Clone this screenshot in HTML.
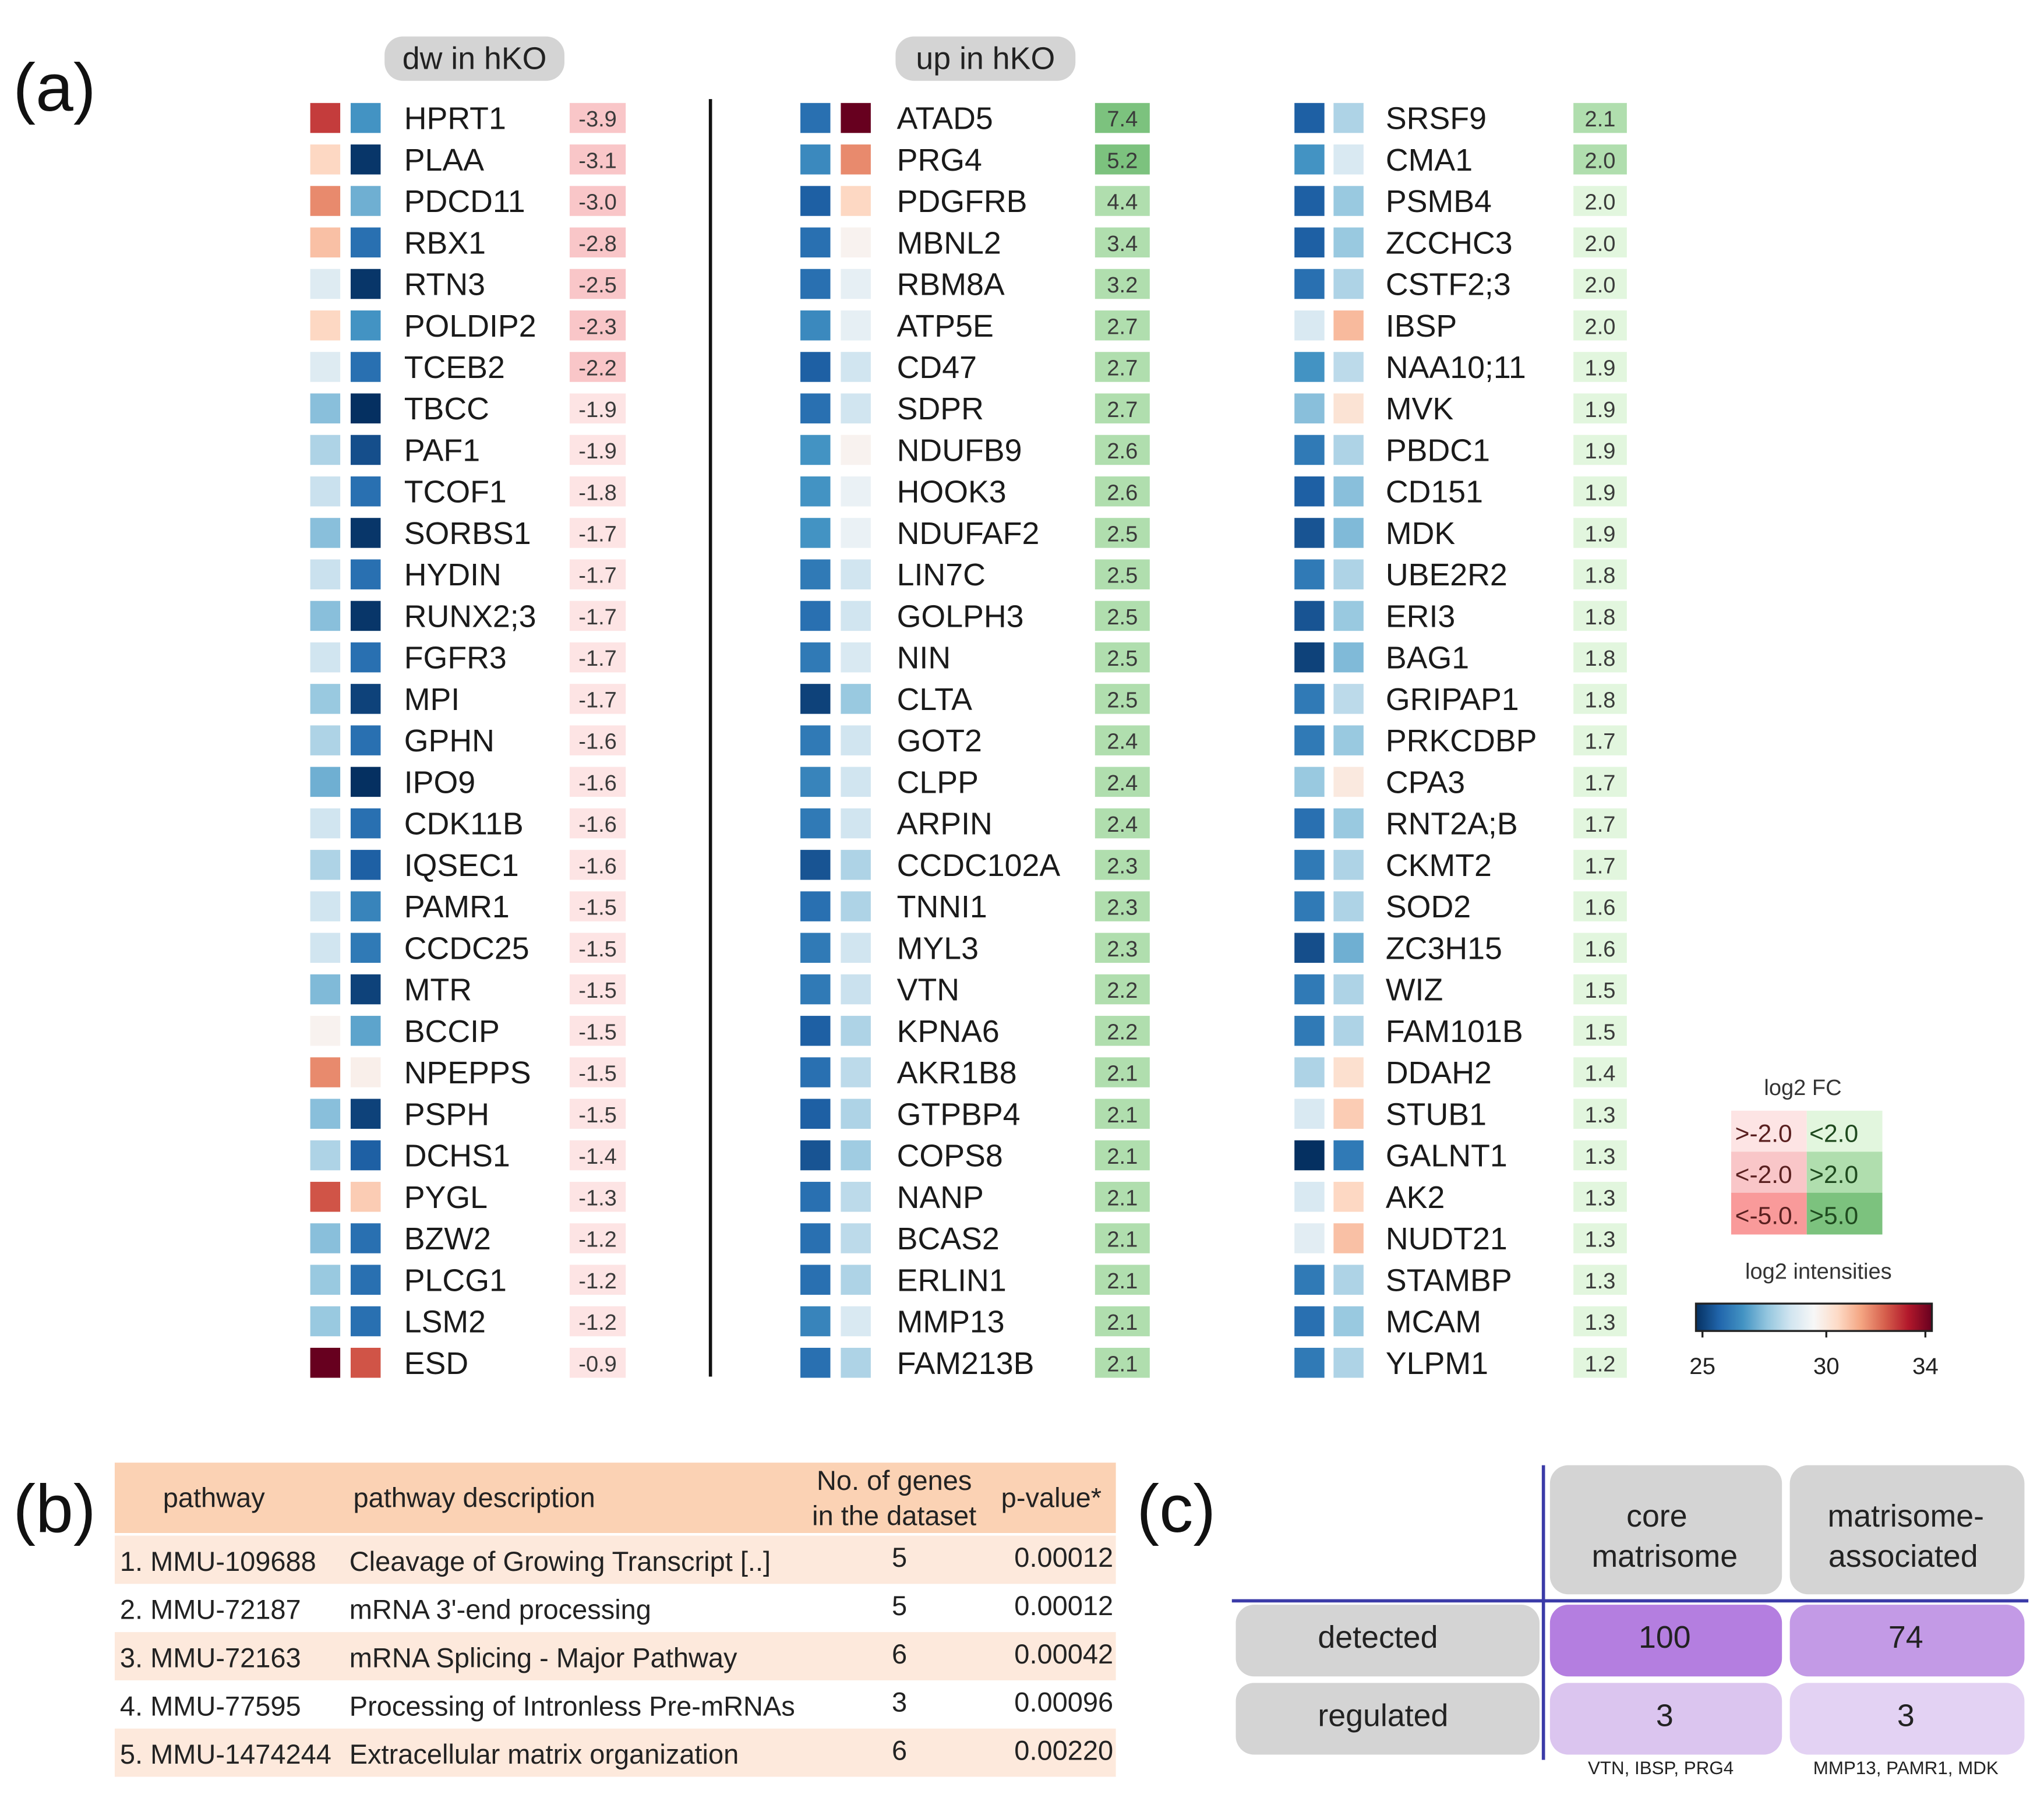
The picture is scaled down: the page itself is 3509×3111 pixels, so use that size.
<!DOCTYPE html>
<html><head><meta charset="utf-8">
<style>
html,body{margin:0;padding:0;background:#fff;}
svg{display:block;font-family:"Liberation Sans",Arial,sans-serif;}
</style></head>
<body>
<svg id="fig" width="3509" height="3111" viewBox="0 0 1568 1390" preserveAspectRatio="none" xmlns="http://www.w3.org/2000/svg">
<rect x="0" y="0" width="1568" height="1390" fill="#fff"/>
<text x="10" y="85" font-size="52" fill="#111">(a)</text>
<g><rect x="295" y="28" width="138" height="34" rx="14" fill="#d4d4d4"/><text x="364" y="53" font-size="24" text-anchor="middle" fill="#222">dw in hKO</text></g>
<g><rect x="687" y="28" width="138" height="34" rx="14" fill="#d4d4d4"/><text x="756" y="53" font-size="24" text-anchor="middle" fill="#222">up in hKO</text></g>
<line x1="545" y1="76" x2="545" y2="1056" stroke="#111" stroke-width="2.5"/>
<g id="heat"></g>
<g id="legend"></g>
<g id="tableb"></g>
<g id="panelc"></g>
</svg>
<script>
const NS="http://www.w3.org/2000/svg";
function mk(tag,attrs,parent,txt){const e=document.createElementNS(NS,tag);for(const k in attrs)e.setAttribute(k,attrs[k]);if(txt!==undefined)e.textContent=txt;parent.appendChild(e);return e;}

const genes1=["HPRT1","PLAA","PDCD11","RBX1","RTN3","POLDIP2","TCEB2","TBCC","PAF1","TCOF1","SORBS1","HYDIN","RUNX2;3","FGFR3","MPI","GPHN","IPO9","CDK11B","IQSEC1","PAMR1","CCDC25","MTR","BCCIP","NPEPPS","PSPH","DCHS1","PYGL","BZW2","PLCG1","LSM2","ESD"];
const fc1=[-3.9,-3.1,-3.0,-2.8,-2.5,-2.3,-2.2,-1.9,-1.9,-1.8,-1.7,-1.7,-1.7,-1.7,-1.7,-1.6,-1.6,-1.6,-1.6,-1.5,-1.5,-1.5,-1.5,-1.5,-1.5,-1.4,-1.3,-1.2,-1.2,-1.2,-0.9];
const intA1=[33,30.8,32,31.2,29.6,30.8,29.6,28.3,28.8,29.2,28.3,29.2,28.3,29.3,28.5,28.8,28,29.3,28.8,29.3,29.3,28.2,30,32,28.3,28.8,32.7,28.3,28.5,28.5,34];
const intB1=[27.5,25.8,28,26.8,25.8,27.5,26.8,25.6,26.2,26.8,25.8,26.8,25.8,26.8,26,26.8,25.6,26.8,26.5,27.2,27,26,27.8,30.1,26,26.5,31,26.8,26.8,26.8,32.7];

const genes2=["ATAD5","PRG4","PDGFRB","MBNL2","RBM8A","ATP5E","CD47","SDPR","NDUFB9","HOOK3","NDUFAF2","LIN7C","GOLPH3","NIN","CLTA","GOT2","CLPP","ARPIN","CCDC102A","TNNI1","MYL3","VTN","KPNA6","AKR1B8","GTPBP4","COPS8","NANP","BCAS2","ERLIN1","MMP13","FAM213B"];
const fc2=[7.4,5.2,4.4,3.4,3.2,2.7,2.7,2.7,2.6,2.6,2.5,2.5,2.5,2.5,2.5,2.4,2.4,2.4,2.3,2.3,2.3,2.2,2.2,2.1,2.1,2.1,2.1,2.1,2.1,2.1,2.1];
const intA2=[26.8,27.3,26.5,26.8,26.8,27.3,26.5,26.8,27.5,27.5,27.5,27,26.8,27,26,27,27.2,27,26.3,26.8,27,27,26.5,26.8,26.5,26.3,26.8,26.8,26.8,27.2,26.8];
const intB2=[34,32,30.8,30,29.8,29.8,29.3,29.3,30,29.9,29.9,29.3,29.3,29.5,28.5,29.3,29.3,29.3,28.8,28.8,29.3,29.2,28.8,29,28.8,28.6,29,29,28.8,29.5,28.8];

const genes3=["SRSF9","CMA1","PSMB4","ZCCHC3","CSTF2;3","IBSP","NAA10;11","MVK","PBDC1","CD151","MDK","UBE2R2","ERI3","BAG1","GRIPAP1","PRKCDBP","CPA3","RNT2A;B","CKMT2","SOD2","ZC3H15","WIZ","FAM101B","DDAH2","STUB1","GALNT1","AK2","NUDT21","STAMBP","MCAM","YLPM1"];
const fc3=[2.1,2.02,1.98,1.98,1.98,1.98,1.9,1.9,1.9,1.9,1.9,1.8,1.8,1.8,1.8,1.7,1.7,1.7,1.7,1.6,1.6,1.5,1.5,1.4,1.3,1.3,1.3,1.3,1.3,1.3,1.2];
const intA3=[26.5,27.5,26.5,26.5,26.8,29.5,27.5,28.3,27,26.5,26.3,27,26.3,26,27,27,28.5,26.8,27,27,26.2,27,27,28.8,29.5,25.5,29.5,29.7,27,26.8,27];
const intB3=[28.8,29.5,28.5,28.5,28.8,31.3,29,30.5,28.8,28.3,28.2,28.8,28.5,28.2,29,28.5,30.3,28.5,28.8,28.8,28,28.8,28.8,30.6,31,27,30.8,31.2,28.8,28.5,28.8];

const cbTicks=[25,30,34];

const stops=["#053061","#2166ac","#4393c3","#92c5de","#d1e5f0","#f7f7f7","#fddbc7","#f4a582","#d6604d","#b2182b","#67001f"];
function hex(h){return [parseInt(h.substr(1,2),16),parseInt(h.substr(3,2),16),parseInt(h.substr(5,2),16)];}
function grad(t){t=Math.max(0,Math.min(1,t));const p=t*10,i=Math.min(9,Math.floor(p)),f=p-i;const a=hex(stops[i]),b=hex(stops[i+1]);return "rgb("+a.map((x,k)=>Math.round(x+(b[k]-x)*f)).join(",")+")";}
function cmap(v){let w=v<30?v-0.7:(v<33.5?v-0.35:v);return grad((w-25)/9);}
function fcColor(v){if(v<=-5)return"#f99a9a";if(v<-2)return"#f9c6c8";if(v<0)return"#fde4e4";if(v>=5)return"#7cc27e";if(v>=2)return"#b0deae";return"#e2f6de";}
function rowY(i){return 90+i*31.83;}

const heat=document.getElementById('heat');
const cols=[
 {g:genes1,fc:fc1,a:intA1,b:intB1,xa:238,xb:269,xn:310,xf:437,wf:43},
 {g:genes2,fc:fc2,a:intA2,b:intB2,xa:614,xb:645,xn:688,xf:840,wf:42},
 {g:genes3,fc:fc3,a:intA3,b:intB3,xa:993,xb:1023,xn:1063,xf:1207,wf:41}];
cols.forEach(c=>{
 c.g.forEach((gene,i)=>{
  const y=rowY(i);
  const ra=mk('rect',{x:c.xa,y:y-11,width:23,height:23,fill:cmap(c.a[i])},heat);
  
  
  const rb=mk('rect',{x:c.xb,y:y-11,width:23,height:23,fill:cmap(c.b[i])},heat);
  
  
  const t=mk('text',{x:c.xn,y:y+9,'font-size':24,fill:'#1a1a1a'},heat,gene);
  
  
  const fr=mk('rect',{x:c.xf,y:y-11,width:c.wf,height:23,fill:fcColor(c.fc[i])},heat);
  
  
  const ft=mk('text',{x:c.xf+c.wf/2,y:y+7,'font-size':17,'text-anchor':'middle',fill:'#3a3a3a'},heat,c.fc[i].toFixed(1));
  
  
 });
});

const lg=document.getElementById('legend');
mk('text',{x:1383,y:840,'font-size':17,'text-anchor':'middle',fill:'#333',},lg,'log2 FC');
const lgRows=[[">-2.0","#fde4e4","<2.0","#e2f6de"],["<-2.0","#f9c6c8",">2.0","#b0deae"],["<-5.0.","#f99a9a",">5.0","#7cc27e"]];
lgRows.forEach((r,i)=>{
 const y=852+i*31.5;
 mk('rect',{x:1328,y:y,width:58,height:32,fill:r[1],},lg);
 mk('rect',{x:1386,y:y,width:58,height:32,fill:r[3],},lg);
 mk('text',{x:1331,y:y+24,'font-size':19,fill:'#5a2020'},lg,r[0]);
 mk('text',{x:1388,y:y+24,'font-size':19,fill:'#1f4a1f'},lg,r[2]);
});
mk('text',{x:1395,y:981,'font-size':17,'text-anchor':'middle',fill:'#333',},lg,'log2 intensities');
const defs=mk('defs',{},lg);
const lgr=mk('linearGradient',{id:'cbg',x1:0,x2:1,y1:0,y2:0},defs);
stops.forEach((s,i)=>mk('stop',{offset:(i/10),'stop-color':s},lgr));
const cbx0=1301,cbx1=1482;
mk('rect',{x:cbx0,y:1000,width:cbx1-cbx0,height:21,fill:'url(#cbg)',stroke:'#222','stroke-width':1.5,},lg);
function cbX(v){return cbx0+5+(v-25)/9*(cbx1-cbx0-10);}
cbTicks.forEach(v=>{
 mk('line',{x1:cbX(v),x2:cbX(v),y1:1021,y2:1026,stroke:'#222','stroke-width':1.5},lg);
 const t=mk('text',{x:cbX(v),y:1054,'font-size':18,'text-anchor':'middle',fill:'#222'},lg,String(v));
 
 
});

const tb=document.getElementById('tableb');
mk('text',{x:10,y:1175,'font-size':52,fill:'#111',},tb,'(b)');
mk('rect',{x:88,y:1122,width:768,height:54,fill:'#fbd2b4',},tb);
mk('text',{x:125,y:1156,'font-size':21,fill:'#222'},tb,'pathway');
mk('text',{x:271,y:1156,'font-size':21,fill:'#222'},tb,'pathway description');
mk('text',{x:686,y:1143,'font-size':21,fill:'#222','text-anchor':'middle'},tb,'No. of genes');
mk('text',{x:686,y:1170,'font-size':21,fill:'#222','text-anchor':'middle'},tb,'in the dataset');
mk('text',{x:768,y:1156,'font-size':21,fill:'#222'},tb,'p-value*');
const tRows=[["1. MMU-109688","Cleavage of Growing Transcript [..]","5","0.00012"],["2. MMU-72187","mRNA 3'-end processing","5","0.00012"],["3. MMU-72163","mRNA Splicing - Major Pathway","6","0.00042"],["4. MMU-77595","Processing of Intronless Pre-mRNAs","3","0.00096"],["5. MMU-1474244","Extracellular matrix organization","6","0.00220"]];
tRows.forEach((r,i)=>{
 const y=1178+i*37;
 if(i%2===0)mk('rect',{x:88,y:y,width:768,height:37,fill:'#fde9dc',},tb);
 const g=mk('g',{},tb);
 mk('text',{x:92,y:y+27,'font-size':21,fill:'#222'},g,r[0]);
 mk('text',{x:268,y:y+27,'font-size':21,fill:'#222'},g,r[1]);
 mk('text',{x:690,y:y+24,'font-size':21,fill:'#222','text-anchor':'middle'},g,r[2]);
 mk('text',{x:854,y:y+24,'font-size':21,fill:'#222','text-anchor':'end'},g,r[3]);
});

const pc=document.getElementById('panelc');
mk('text',{x:872,y:1175,'font-size':52,fill:'#111',},pc,'(c)');
function box(x,y,w,h,fill,name){const r=mk('rect',{x:x,y:y,width:w,height:h,rx:14,fill:fill},pc);}
box(1189,1124,178,99,'#d4d4d4','core-matrisome-header');
box(1373,1124,180,99,'#d4d4d4','matrisome-associated-header');
mk('text',{x:1271,y:1171,'font-size':24,'text-anchor':'middle',fill:'#222'},pc,'core');
mk('text',{x:1277,y:1202,'font-size':24,'text-anchor':'middle',fill:'#222'},pc,'matrisome');
mk('text',{x:1462,y:1171,'font-size':24,'text-anchor':'middle',fill:'#222'},pc,'matrisome-');
mk('text',{x:1460,y:1202,'font-size':24,'text-anchor':'middle',fill:'#222'},pc,'associated');
box(948,1231,233,55,'#d4d4d4','detected-label-box');
box(948,1291,233,55,'#d4d4d4','regulated-label-box');
mk('text',{x:1057,y:1264,'font-size':24,'text-anchor':'middle',fill:'#222'},pc,'detected');
mk('text',{x:1061,y:1324,'font-size':24,'text-anchor':'middle',fill:'#222'},pc,'regulated');
box(1189,1231,178,55,'#b47ee0','detected-core-cell');
box(1373,1231,180,55,'#c39ae6','detected-assoc-cell');
box(1189,1291,178,55,'#dbc5ef','regulated-core-cell');
box(1373,1291,180,55,'#e3d2f3','regulated-assoc-cell');
mk('text',{x:1277,y:1264,'font-size':24,'text-anchor':'middle',fill:'#222'},pc,'100');
mk('text',{x:1462,y:1264,'font-size':24,'text-anchor':'middle',fill:'#222'},pc,'74');
mk('text',{x:1277,y:1324,'font-size':24,'text-anchor':'middle',fill:'#222'},pc,'3');
mk('text',{x:1462,y:1324,'font-size':24,'text-anchor':'middle',fill:'#222'},pc,'3');
mk('text',{x:1274,y:1361,'font-size':14,'text-anchor':'middle',fill:'#222'},pc,'VTN, IBSP, PRG4');
mk('text',{x:1462,y:1361,'font-size':14,'text-anchor':'middle',fill:'#222'},pc,'MMP13, PAMR1, MDK');
mk('line',{x1:1184,y1:1124,x2:1184,y2:1350,stroke:'#3b3ba8','stroke-width':2.5,},pc);
mk('line',{x1:945,y1:1228,x2:1556,y2:1228,stroke:'#3b3ba8','stroke-width':2.5,},pc);
</script>
</body></html>
